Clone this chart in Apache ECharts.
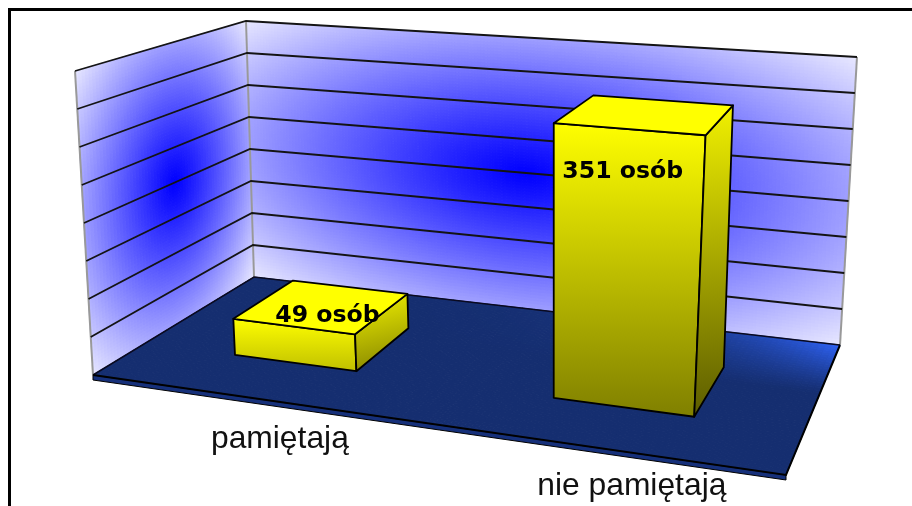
<!DOCTYPE html>
<html><head><meta charset="utf-8">
<style>html,body{margin:0;padding:0;background:#fff}#c{width:912px;height:506px}</style>
<script src="https://cdn.jsdelivr.net/npm/echarts@6/dist/echarts.min.js"></script>
</head><body><div id="c"></div>
<script>
const categories = ['pamiętają', 'nie pamiętają'];
const values = [49, 351];
const valueSuffix = ' osób';
const yTicks = [0, 50, 100, 150, 200, 250, 300, 350, 400];

// camera: corners of the 3D box on the page (front-left, front-right, back-right, back-left)
const floorQuad = [[93,375],[786,475],[840,345],[254,277]];
const ceilQuad  = [[75,71],[816,130],[857,57],[246,21]];
const barWidthRatio = 0.398, barShift = 0.003, depthFront = 0.29, depthBack = 0.69;
const valueLabelOffset = [[36,-10],[-3,43]];
const catLabelOffset = [[33,42],[40,39]];
const catLabelClipY = [455, 520];

function homography(q){
  const [[x0,y0],[x1,y1],[x2,y2],[x3,y3]] = q;
  const dx1=x1-x2, dx2=x3-x2, sx=x0-x1+x2-x3, dy1=y1-y2, dy2=y3-y2, sy=y0-y1+y2-y3;
  const det=dx1*dy2-dx2*dy1;
  const g=(sx*dy2-dx2*sy)/det, h=(dx1*sy-sx*dy1)/det;
  const a=x1-x0+g*x1, b=x3-x0+h*x3, d=y1-y0+g*y1, e=y3-y0+h*y3;
  return (u,w)=>{const k=g*u+h*w+1;return [(a*u+b*w+x0)/k,(d*u+e*w+y0)/k];};
}
const Hf=homography(floorQuad), Hc=homography(ceilQuad);
function P(u,v,w){const a=Hf(u,w),b=Hc(u,w);return [a[0]+(b[0]-a[0])*v,a[1]+(b[1]-a[1])*v];}
function clamp8(n){return Math.round(Math.max(0,Math.min(255,n)));}
function wallColor(s,t){
  const d=Math.min(1,Math.sqrt(((s-.5)*2)**2+((t-.5)*2)**2)/Math.SQRT2);
  const c=clamp8(232*Math.pow(d,1.1));
  return `rgb(${c},${c},255)`;
}
function floorColor(u,w){
  const f=Math.max(0,(w-.58)/.42)**1.15*Math.pow(u,5);
  const mix=(a,b)=>clamp8(a+(b-a)*f);
  return `rgb(${mix(21,46)},${mix(46,98)},${mix(112,245)})`;
}
function mesh(nx,ny,pt,col){
  const ch=[];
  for(let i=0;i<nx;i++)for(let j=0;j<ny;j++){
    const a=i/nx,b=(i+1)/nx,c=j/ny,d=(j+1)/ny;
    const fill=col((a+b)/2,(c+d)/2);
    ch.push({type:'polygon',silent:true,shape:{points:[pt(a,c),pt(b,c),pt(b,d),pt(a,d)]},style:{fill,stroke:fill,lineWidth:1}});
  }
  return ch;
}
const line=(pts,stroke,lineWidth)=>({type:'polyline',silent:true,shape:{points:pts},style:{fill:'none',stroke,lineWidth}});

function renderBackdrop(){
  const kids=[];
  kids.push(...mesh(60,90,(a,b)=>P(0,b,a),wallColor));
  kids.push(...mesh(180,90,(a,b)=>P(a,b,1),wallColor));
  kids.push({type:'polygon',silent:true,shape:{points:[floorQuad[0],floorQuad[1],[floorQuad[1][0],floorQuad[1][1]+5],[floorQuad[0][0],floorQuad[0][1]+5]]},style:{fill:'#16307a',stroke:'#000',lineWidth:1}});
  kids.push(...mesh(100,50,(a,b)=>Hf(a,b),floorColor));
  kids.push(line([P(0,0,0),P(0,1,0)],'#999',2));
  kids.push(line([P(0,0,1),P(0,1,1)],'#999',2));
  kids.push(line([P(1,0,1),P(1,1,1)],'#999',2));
  kids.push(line([floorQuad[0],floorQuad[3],floorQuad[2]],'#0a0a20',1.5));
  kids.push(line([floorQuad[2],floorQuad[1],floorQuad[0]],'#000',2));
  return {type:'group',children:kids};
}
function renderGridLine(params,api){
  const cs=params.coordSys;
  const v=1-(api.coord([0,api.value(1)])[1]-cs.y)/cs.height;
  return line([P(0,v,0),P(0,v,1),P(1,v,1)],'#141414',1.8);
}
function renderBar(params,api){
  const cs=params.coordSys, i=api.value(0), val=api.value(1);
  const uc=(api.coord([i,0])[0]-cs.x)/cs.width+barShift, hw=api.size([1,0])[0]/cs.width*barWidthRatio/2;
  const v=1-(api.coord([i,val])[1]-cs.y)/cs.height;
  const u0=uc-hw,u1=uc+hw,w0=depthFront,w1=depthBack;
  const shade=Math.min(1,val/400);
  const botF=Math.round(255-130*Math.pow(shade,.35)*1.03), botS=Math.round(botF*.72);
  const rgb=c=>`rgb(${c},${c},0)`;
  const face=(pts,fill)=>({type:'polygon',silent:true,shape:{points:pts},style:{fill,stroke:'#000',lineWidth:1.8,lineJoin:'round'}});
  return {type:'group',children:[
    face([P(u0,0,w0),P(u1,0,w0),P(u1,v,w0),P(u0,v,w0)],{type:'linear',x:0,y:0,x2:0,y2:1,colorStops:[{offset:0,color:'#ffff00'},{offset:1,color:rgb(botF)}]}),
    face([P(u1,0,w0),P(u1,0,w1),P(u1,v,w1),P(u1,v,w0)],{type:'linear',x:0,y:0,x2:.35,y2:1,colorStops:[{offset:0,color:'#f2f200'},{offset:1,color:rgb(botS)}]}),
    face([P(u0,v,w0),P(u1,v,w0),P(u1,v,w1),P(u0,v,w1)],'#ffff00')
  ]};
}
function renderValueLabel(params,api){
  const cs=params.coordSys, i=api.value(0), val=api.value(1);
  const uc=(api.coord([i,0])[0]-cs.x)/cs.width;
  const v=1-(api.coord([i,val])[1]-cs.y)/cs.height;
  const p=P(uc,v,depthFront), o=valueLabelOffset[i];
  return {type:'text',silent:true,style:{text:val+valueSuffix,x:p[0]+o[0],y:p[1]+o[1],font:'bold 23.6px "DejaVu Sans"',fill:'#000',align:'center',verticalAlign:'middle'}};
}
function renderCatLabel(params,api){
  const cs=params.coordSys, i=api.value(0);
  const uc=(api.coord([i,0])[0]-cs.x)/cs.width;
  const p=P(uc,0,0), o=catLabelOffset[i];
  return {type:'text',silent:true,
    clipPath:{type:'rect',shape:{x:0,y:0,width:912,height:catLabelClipY[i]}},
    style:{text:categories[i],x:p[0]+o[0],y:p[1]+o[1],font:'31.8px "Liberation Sans"',fill:'#111',align:'center',verticalAlign:'middle'}};
}
const chart=echarts.init(document.getElementById('c'),null,{renderer:'canvas'});
const barData=categories.map((c,i)=>[i,values[i]]);
const custom=(name,data,renderItem,z)=>({type:'custom',name,coordinateSystem:'cartesian2d',data,renderItem,z,silent:true,clip:false,animation:false});
chart.setOption({
  animation:false,backgroundColor:'#fff',
  grid:{left:0,right:0,top:0,bottom:0,show:false},
  xAxis:{type:'category',data:categories,show:false},
  yAxis:{type:'value',min:0,max:400,interval:50,show:false},
  graphic:[
    {type:'rect',shape:{x:8,y:8,width:904,height:3},style:{fill:'#000'},z:100},
    {type:'rect',shape:{x:8,y:8,width:3,height:498},style:{fill:'#000'},z:100}
  ],
  series:[
    custom('backdrop',[[0,0]],renderBackdrop,1),
    custom('grid',yTicks.slice(1).map(v=>[0,v]),renderGridLine,2),
    custom('bars',barData,renderBar,3),
    custom('valueLabels',barData,renderValueLabel,4),
    custom('catLabels',barData,renderCatLabel,4)
  ]
});
</script></body></html>
